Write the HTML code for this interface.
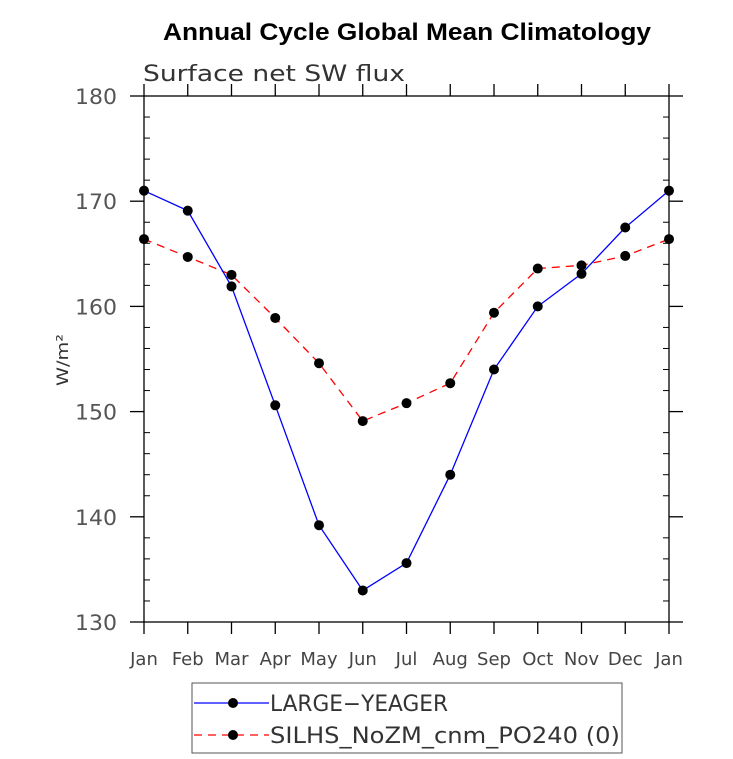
<!DOCTYPE html>
<html><head><meta charset="utf-8"><style>
body{margin:0;background:#fff;}
svg{display:block;font-family:"DejaVu Sans","Liberation Sans",sans-serif;}
</style></head><body>
<svg id="chart" width="733" height="759" viewBox="0 0 733 759">
<text x="407" y="40" text-anchor="middle" font-size="24" font-weight="bold" font-family="Liberation Sans, sans-serif" textLength="488" lengthAdjust="spacingAndGlyphs">Annual Cycle Global Mean Climatology</text>
<text x="143" y="81" font-size="22" fill="#333" textLength="262" lengthAdjust="spacingAndGlyphs">Surface net SW flux</text>
<text transform="translate(68,360) rotate(-90)" text-anchor="middle" font-size="16" fill="#333" textLength="52" lengthAdjust="spacingAndGlyphs">W/m²</text>
<g id="axes"></g>
<g id="series"></g>
<g>
<rect x="192" y="683" width="430" height="70" fill="none" stroke="#555" stroke-width="1"/>
<line x1="194" y1="703" x2="269" y2="703" stroke="#0000ff" stroke-width="1.3"/>
<circle cx="233" cy="703" r="5" fill="#000"/>
<text x="270" y="711" font-size="22" fill="#333" textLength="178" lengthAdjust="spacingAndGlyphs">LARGE−YEAGER</text>
<line x1="194" y1="735" x2="269" y2="735" stroke="#ff0000" stroke-width="1.3" stroke-dasharray="8,6"/>
<circle cx="233" cy="735" r="5" fill="#000"/>
<text x="270" y="743" font-size="22" fill="#333" textLength="350" lengthAdjust="spacingAndGlyphs">SILHS_NoZM_cnm_PO240 (0)</text>
</g>
</svg>
<script>
const months=["Jan","Feb","Mar","Apr","May","Jun","Jul","Aug","Sep","Oct","Nov","Dec","Jan"];
const largeYeager=[171.0,169.1,161.9,150.6,139.2,133.0,135.6,144.0,154.0,160.0,163.1,167.5,171.0];
const silhs=[166.4,164.7,163.0,158.9,154.6,149.1,150.8,152.7,159.4,163.6,163.9,164.8,166.4];
const yTicks=[130,140,150,160,170,180];
const L=144,R=669,T=96,B=622,ymin=130,ymax=180;
const xs=i=>L+(R-L)*i/(months.length-1);
const ys=v=>B-(v-ymin)/(ymax-ymin)*(B-T);
const NS="http://www.w3.org/2000/svg";
function mk(tag,attrs,parent){const e=document.createElementNS(NS,tag);for(const k in attrs)e.setAttribute(k,attrs[k]);parent.appendChild(e);return e;}
const ax=document.getElementById('axes');
const frame=mk('rect',{x:L,y:T,width:R-L,height:B-T,fill:'none',stroke:'#000','stroke-width':1.3},ax);


for(let v=ymin;v<=ymax;v+=2){
  const y=ys(v);const major=yTicks.includes(v);
  if(major){
    mk('line',{x1:L-14,y1:y,x2:L,y2:y,stroke:'#000','stroke-width':1.3},ax);
    mk('line',{x1:R,y1:y,x2:R+14,y2:y,stroke:'#000','stroke-width':1.3},ax);
    const t=mk('text',{x:L-27,y:y+8,'text-anchor':'end','font-size':21,fill:'#555',textLength:42,lengthAdjust:'spacingAndGlyphs'},ax);
    t.textContent=v;
    
    
  }else{
    mk('line',{x1:L,y1:y,x2:L+6,y2:y,stroke:'#000','stroke-width':1},ax);
    mk('line',{x1:R-6,y1:y,x2:R,y2:y,stroke:'#000','stroke-width':1},ax);
  }
}
months.forEach((m,i)=>{
  const x=xs(i);
  mk('line',{x1:x,y1:B,x2:x,y2:B+12,stroke:'#000','stroke-width':1.3},ax);
  mk('line',{x1:x,y1:T-12,x2:x,y2:T,stroke:'#000','stroke-width':1.3},ax);
  const t=mk('text',{x:x,y:B+43,'text-anchor':'middle','font-size':18,fill:'#444'},ax);
  t.textContent=m;
  
  
});
const sg=document.getElementById('series');
function draw(vals,color,dash,name){
  const p=mk('polyline',{points:vals.map((v,i)=>xs(i)+','+ys(v)).join(' '),fill:'none',stroke:color,'stroke-width':1.3,'stroke-dasharray':dash},sg);
  
  
  vals.forEach((v,i)=>{
    const c=mk('circle',{cx:xs(i),cy:ys(v),r:5,fill:'#000'},sg);
    
    
  });
}
draw(silhs,'#ff0000','8,6','silhs');
draw(largeYeager,'#0000ff','none','large-yeager');
</script>
</body></html>
